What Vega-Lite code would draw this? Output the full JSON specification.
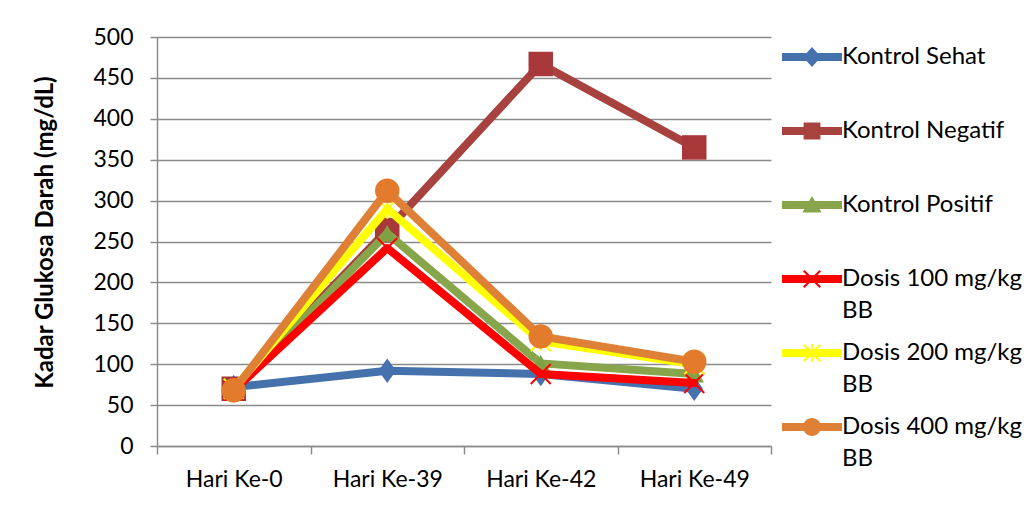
{
  "$schema": "https://vega.github.io/schema/vega-lite/v6.json",
  "width": 614,
  "height": 409,
  "autosize": {"type": "none"},
  "padding": {"left": 157, "top": 37, "right": 261, "bottom": 78},
  "background": "white",
  "data": {
    "values": [
      {"series": "Kontrol Sehat", "day": "Hari Ke-0", "value": 72},
      {"series": "Kontrol Sehat", "day": "Hari Ke-39", "value": 92},
      {"series": "Kontrol Sehat", "day": "Hari Ke-42", "value": 88},
      {"series": "Kontrol Sehat", "day": "Hari Ke-49", "value": 70},
      {"series": "Kontrol Negatif", "day": "Hari Ke-0", "value": 70},
      {"series": "Kontrol Negatif", "day": "Hari Ke-39", "value": 264},
      {"series": "Kontrol Negatif", "day": "Hari Ke-42", "value": 467},
      {"series": "Kontrol Negatif", "day": "Hari Ke-49", "value": 365},
      {"series": "Kontrol Positif", "day": "Hari Ke-0", "value": 68},
      {"series": "Kontrol Positif", "day": "Hari Ke-39", "value": 260},
      {"series": "Kontrol Positif", "day": "Hari Ke-42", "value": 101},
      {"series": "Kontrol Positif", "day": "Hari Ke-49", "value": 88},
      {"series": "Dosis 100 mg/kg BB", "day": "Hari Ke-0", "value": 68},
      {"series": "Dosis 100 mg/kg BB", "day": "Hari Ke-39", "value": 242},
      {"series": "Dosis 100 mg/kg BB", "day": "Hari Ke-42", "value": 88},
      {"series": "Dosis 100 mg/kg BB", "day": "Hari Ke-49", "value": 77},
      {"series": "Dosis 200 mg/kg BB", "day": "Hari Ke-0", "value": 70},
      {"series": "Dosis 200 mg/kg BB", "day": "Hari Ke-39", "value": 290},
      {"series": "Dosis 200 mg/kg BB", "day": "Hari Ke-42", "value": 128},
      {"series": "Dosis 200 mg/kg BB", "day": "Hari Ke-49", "value": 100},
      {"series": "Dosis 400 mg/kg BB", "day": "Hari Ke-0", "value": 68},
      {"series": "Dosis 400 mg/kg BB", "day": "Hari Ke-39", "value": 312},
      {"series": "Dosis 400 mg/kg BB", "day": "Hari Ke-42", "value": 134},
      {"series": "Dosis 400 mg/kg BB", "day": "Hari Ke-49", "value": 103}
    ]
  },
  "encoding": {
    "x": {
      "field": "day", "type": "nominal", "title": null,
      "sort": ["Hari Ke-0", "Hari Ke-39", "Hari Ke-42", "Hari Ke-49"],
      "scale": {"paddingInner": 0, "paddingOuter": 0},
      "axis": {
        "labelAngle": 0, "tickBand": "extent", "grid": false,
        "domainColor": "#8c8c8c", "domainWidth": 1.5,
        "tickColor": "#8c8c8c", "tickWidth": 1.5, "tickSize": 8,
        "labelFont": "Lato", "labelFontSize": 23, "labelColor": "#000000",
        "labelPadding": 14
      }
    },
    "y": {
      "field": "value", "type": "quantitative",
      "scale": {"domain": [0, 500], "nice": false},
      "axis": {
        "values": [0, 50, 100, 150, 200, 250, 300, 350, 400, 450, 500],
        "title": "Kadar Glukosa Darah (mg/dL)",
        "titleFont": "Lato", "titleFontSize": 24, "titleFontWeight": "bold", "titleColor": "#000000",
        "titleX": -112, "titleY": 195, "titleAngle": -90, "titleBaseline": "middle", "titleAlign": "center",
        "grid": true, "gridColor": "#8c8c8c", "gridWidth": 1.5,
        "domainColor": "#8c8c8c", "domainWidth": 1.5,
        "tickColor": "#8c8c8c", "tickWidth": 1.5, "tickSize": 7,
        "labelFont": "Lato", "labelFontSize": 23, "labelColor": "#000000",
        "labelPadding": 17
      }
    }
  },
  "layer": [
    {
      "transform": [{"filter": {"field": "series", "equal": "Kontrol Sehat"}}],
      "mark": {"type": "line", "strokeWidth": 8, "strokeJoin": "round", "strokeCap": "round"},
      "encoding": {
        "color": {
          "field": "series", "type": "nominal",
          "scale": {
            "domain": ["Kontrol Sehat", "Kontrol Negatif", "Kontrol Positif", "Dosis 100 mg/kg BB", "Dosis 200 mg/kg BB", "Dosis 400 mg/kg BB"],
            "range": ["#4572AD", "#A8423F", "#87A64C", "#FF0000", "#FFFF00", "#DE8136"]
          },
          "legend": {
            "orient": "none", "legendX": 625, "legendY": -10,
            "title": null, "padding": 0, "rowPadding": 0,
            "symbolSize": 3600, "symbolType": "circle",
            "labelFont": "Lato", "labelFontSize": 24, "labelColor": "#000000",
            "labelOffset": 0, "labelLimit": 400,
            "labelExpr": "indexof(datum.label, 'Dosis') === 0 ? [replace(datum.label, ' BB', ''), 'BB'] : [datum.label, ' ']",
            "encode": {
              "labels": {"update": {"lineHeight": {"value": 31.5}}},
              "symbols": {"update": {
                "shape": {"signal": "datum.value === 'Kontrol Sehat' ? 'M-1,-0.13H1V0.13H-1Z M0,-0.33L0.3,0L0,0.33L-0.3,0Z' : datum.value === 'Kontrol Negatif' ? 'M-1,-0.13H1V0.13H-1Z M-0.28,-0.28H0.28V0.28H-0.28Z' : datum.value === 'Kontrol Positif' ? 'M-1,-0.13H1V0.13H-1Z M0,-0.3L0.32,0.25H-0.32Z' : datum.value === 'Dosis 100 mg/kg BB' ? 'M-1,-0.13H1V0.13H-1Z M-0.3,-0.25L-0.25,-0.3L0.3,0.25L0.25,0.3Z M0.25,-0.3L0.3,-0.25L-0.25,0.3L-0.3,0.25Z' : datum.value === 'Dosis 200 mg/kg BB' ? 'M-1,-0.13H1V0.13H-1Z M-0.3,-0.25L-0.25,-0.3L0.3,0.25L0.25,0.3Z M0.25,-0.3L0.3,-0.25L-0.25,0.3L-0.3,0.25Z M-0.03,-0.3H0.03V0.3H-0.03Z' : 'M-1,-0.13H1V0.13H-1Z M-0.3,0A0.3,0.3 0 1,1 0.3,0A0.3,0.3 0 1,1 -0.3,0Z'"},
                "fill": {"scale": "color", "field": "value"},
                "stroke": {"value": "transparent"},
                "strokeWidth": {"value": 0},
                "opacity": {"value": 1},
                "size": {"value": 3600}
              }}
            }
          }
        }
      }
    },
    {
      "transform": [{"filter": {"field": "series", "equal": "Kontrol Sehat"}}],
      "mark": {"type": "point", "filled": true, "opacity": 1, "size": 600, "shape": "M0,-1L0.72,0L0,1L-0.72,0Z", "color": "#4572AD"}
    },
    {
      "transform": [{"filter": {"field": "series", "equal": "Kontrol Negatif"}}],
      "mark": {"type": "line", "strokeWidth": 8, "strokeJoin": "round", "strokeCap": "round", "color": "#A8423F"}
    },
    {
      "transform": [{"filter": {"field": "series", "equal": "Kontrol Negatif"}}],
      "mark": {"type": "point", "filled": true, "opacity": 1, "size": 600, "shape": "square", "color": "#A8383A"}
    },
    {
      "transform": [{"filter": {"field": "series", "equal": "Kontrol Positif"}}],
      "mark": {"type": "line", "strokeWidth": 8, "strokeJoin": "round", "strokeCap": "round", "color": "#87A64C"}
    },
    {
      "transform": [{"filter": {"field": "series", "equal": "Kontrol Positif"}}],
      "mark": {"type": "point", "filled": true, "opacity": 1, "size": 380, "shape": "triangle-up", "color": "#80A044"}
    },
    {
      "transform": [{"filter": {"field": "series", "equal": "Dosis 100 mg/kg BB"}}],
      "mark": {"type": "line", "strokeWidth": 8, "strokeJoin": "round", "strokeCap": "round", "color": "#FF0000"}
    },
    {
      "transform": [{"filter": {"field": "series", "equal": "Dosis 100 mg/kg BB"}}],
      "mark": {"type": "point", "filled": false, "opacity": 1, "size": 400, "strokeWidth": 2, "shape": "M-1,-1L1,1M-1,1L1,-1", "color": "#FF0000"}
    },
    {
      "transform": [{"filter": {"field": "series", "equal": "Dosis 200 mg/kg BB"}}],
      "mark": {"type": "line", "strokeWidth": 8, "strokeJoin": "round", "strokeCap": "round", "color": "#FFFF00"}
    },
    {
      "transform": [{"filter": {"field": "series", "equal": "Dosis 200 mg/kg BB"}}],
      "mark": {"type": "point", "filled": false, "opacity": 1, "size": 400, "strokeWidth": 2, "shape": "M-1,-1L1,1M-1,1L1,-1M0,-1L0,1", "color": "#FFFF00"}
    },
    {
      "transform": [{"filter": {"field": "series", "equal": "Dosis 400 mg/kg BB"}}],
      "mark": {"type": "line", "strokeWidth": 8, "strokeJoin": "round", "strokeCap": "round", "color": "#DE8136"}
    },
    {
      "transform": [{"filter": {"field": "series", "equal": "Dosis 400 mg/kg BB"}}],
      "mark": {"type": "point", "filled": true, "opacity": 1, "size": 600, "shape": "circle", "color": "#E27C2C"}
    }
  ],
  "config": {"view": {"stroke": null}}
}
